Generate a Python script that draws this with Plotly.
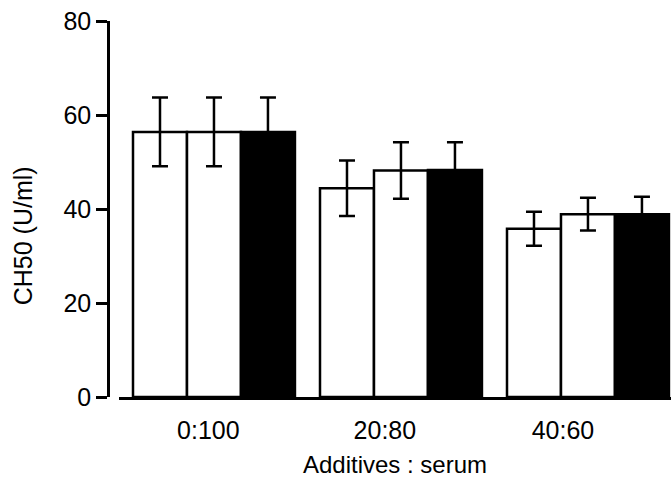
import plotly.graph_objects as go

categories = ["0:100", "20:80", "40:60"]
series1 = [56.4, 44.4, 35.8]
series1_err = [7.3, 5.9, 3.6]
series2 = [56.4, 48.2, 38.9]
series2_err = [7.3, 6.0, 3.5]
series3 = [56.4, 48.3, 38.9]
series3_err = [7.3, 5.9, 3.7]
label_positions = [-0.03, 0.914, 1.866]
y_ticks = [0, 20, 40, 60, 80]

x = list(range(len(categories)))
font = "Liberation Sans, Arial, sans-serif"

fig = go.Figure()
for vals, errs, fill in [(series1, series1_err, "white"),
                         (series2, series2_err, "white"),
                         (series3, series3_err, "black")]:
    fig.add_trace(go.Bar(
        x=x, y=vals,
        marker=dict(color=fill, line=dict(color="black", width=2.5)),
        error_y=dict(type="data", array=errs, color="black", thickness=2.5, width=8),
        showlegend=False,
    ))

fig.update_layout(
    width=671, height=487,
    margin=dict(l=108, r=0, t=21, b=90),
    paper_bgcolor="white", plot_bgcolor="white",
    barmode="group", bargap=0.134, bargroupgap=0,
    font=dict(family=font, color="black", size=25),
    xaxis=dict(
        domain=[0.0195, 1], range=[-0.508, 2.444],
        showline=True, linecolor="black", linewidth=2.5,
        tickmode="array", tickvals=label_positions, ticktext=categories,
        ticks="outside", ticklen=9, tickcolor="rgba(0,0,0,0)",
        showgrid=False, zeroline=False,
        tickfont=dict(size=25),
        title=dict(text="Additives : serum", font=dict(size=24), standoff=14),
        automargin=False,
    ),
    yaxis=dict(
        anchor="free", position=0, range=[0, 80],
        showline=True, linecolor="black", linewidth=2.5,
        tickmode="array", tickvals=y_ticks,
        ticks="outside", ticklen=11, tickwidth=2.5, tickcolor="black",
        showgrid=False, zeroline=False,
        tickfont=dict(size=25),
        automargin=False,
    ),
    annotations=[dict(
        text="CH50 (U/ml)", textangle=-90, showarrow=False,
        xref="paper", yref="paper", x=-0.151, y=0.43,
        xanchor="center", yanchor="middle", font=dict(size=25),
    )],
)

fig.write_html("out.html", post_script="document.body.style.margin='0';",
               config={"displayModeBar": False})
